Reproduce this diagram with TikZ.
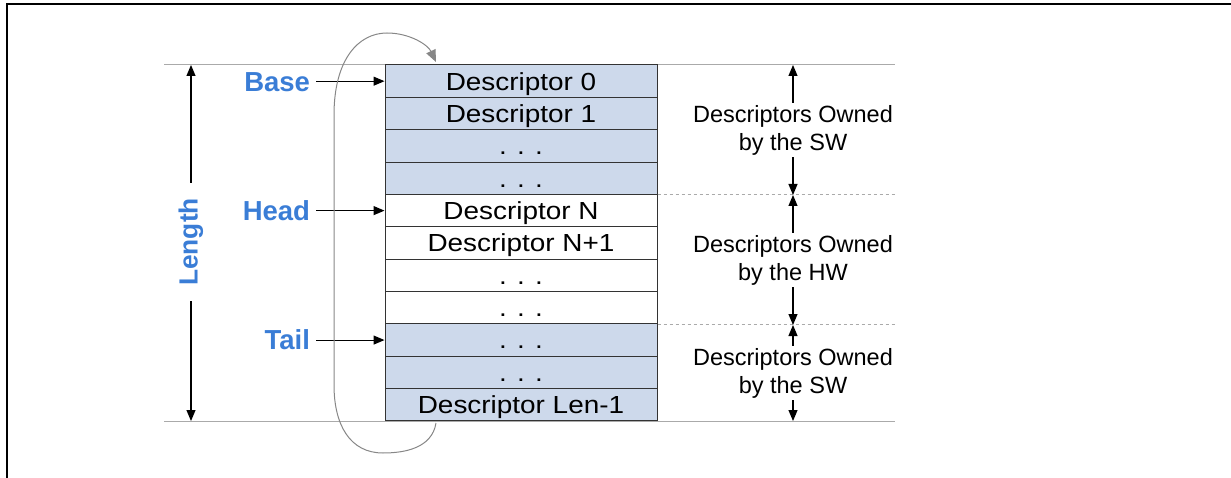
\documentclass[tikz,border=0pt]{standalone}
\usepackage{fontspec}
\setmainfont{Liberation Sans}
\newfontfamily\descfont[FakeStretch=1.13]{Liberation Sans}
\usetikzlibrary{arrows.meta}
\definecolor{lblue}{RGB}{205,217,235}
\definecolor{tblue}{RGB}{58,125,214}
\definecolor{guidegray}{RGB}{170,170,170}
\definecolor{curvegray}{RGB}{135,135,135}
\begin{document}
\begin{tikzpicture}[x=1pt,y=-1pt,
  row/.style={draw=black!80, line width=1pt, minimum width=272pt, minimum height=32.36pt,
    inner sep=0pt, font=\descfont\fontsize{24.7}{28}\selectfont, text height=17.7pt, text depth=0pt},
  lbl/.style={font=\bfseries\fontsize{27.5}{30}\selectfont, text=tblue, inner xsep=6pt,
    inner ysep=0pt, text height=19.7pt, text depth=0pt},
  rlbl/.style={align=center, font=\fontsize{23.5}{28}\selectfont, inner sep=2pt},
  arr/.style={line width=1.1pt, -{Triangle[length=11pt,width=9pt]}},
  guide/.style={guidegray, line width=1pt},
  curvearr/.style={curvegray, line width=1pt, -{Triangle[length=12pt,width=10pt]}}]
\useasboundingbox (0,0) rectangle (1231,478);
% frame
\draw[line width=2.2pt] (7,478) -- (7,4) -- (1231,4);
% guide lines
\draw[guide] (164,65) -- (895,65);
\draw[guide] (164,421) -- (895,421);
% rows
\foreach \i/\t/\f in {0/Descriptor 0/lblue, 1/Descriptor 1/lblue, 2/. . ./lblue, 3/. . ./lblue,
  4/Descriptor N/white, 5/Descriptor N+1/white, 6/. . ./white, 7/. . ./white,
  8/. . ./lblue, 9/. . ./lblue, 10/Descriptor Len-1/lblue}
  \node[row, fill=\f] (r\i) at (521, {65+32.36*(\i+0.5)}) {\t};
% dashed separators
\draw[guide, dashed] (r3.south east) -- ++(238,0);
\draw[guide, dashed] (r7.south east) -- ++(238,0);
% left pointers
\node[lbl, anchor=east] (base) at ([xshift=-68.3pt]r0.west) {Base};
\node[lbl, anchor=east] (head) at ([xshift=-68.3pt]r4.west) {Head};
\node[lbl, anchor=east] (tail) at ([xshift=-68.3pt]r8.west) {Tail};
\draw[arr] (base) -- (r0);
\draw[arr] (head) -- (r4);
\draw[arr] (tail) -- (r8);
% length
\node[rotate=90, font=\bfseries\fontsize{26.3}{28}\selectfont, text=tblue, inner xsep=15pt, inner ysep=0pt] (len) at (191,242) {Length};
\coordinate (lentop) at (191,65);
\coordinate (lenbot) at (191,421);
\draw[arr] (len.east) -- (lentop);
\draw[arr] (len.west) -- (lenbot);
% right labels
\node[rlbl] (sw1) at (793,130) {Descriptors Owned\\by the SW};
\node[rlbl] (hw) at (793,260) {Descriptors Owned\\by the HW};
\node[rlbl] (sw2) at (793,373) {Descriptors Owned\\by the SW};
\coordinate (ra) at (793,65);
\coordinate (rb) at (793,195);
\coordinate (rc) at (793,325);
\coordinate (rd) at (793,421);
\draw[arr] (sw1.north) -- (ra);
\draw[arr] (sw1.south) -- (rb);
\draw[arr] (hw.north) -- (rb);
\draw[arr] (hw.south) -- (rc);
\draw[arr] (sw2.north) -- (rc);
\draw[arr] (sw2.south) -- (rd);
% wrap-around curve
\coordinate (cs) at (436,423);
\coordinate (ce) at (436,62);
\draw[curvearr] (cs) .. controls (432,448) and (405,453) .. (383,453)
  .. controls (350,453) and (334,425) .. (334,385) -- (334,115)
  .. controls (334,60) and (358,33) .. (387,33)
  .. controls (410,33) and (428,45) .. (ce);
\end{tikzpicture}
\end{document}
